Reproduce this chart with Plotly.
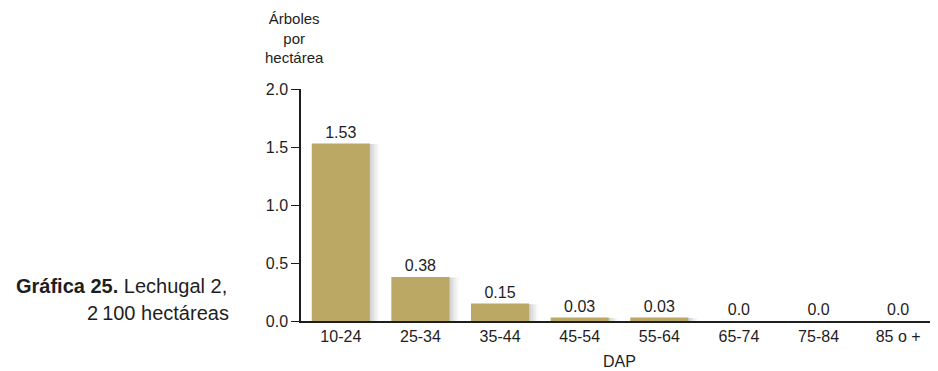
import plotly.graph_objects as go

categories = ["10-24", "25-34", "35-44", "45-54", "55-64", "65-74", "75-84", "85 o +"]
values = [1.53, 0.38, 0.15, 0.03, 0.03, 0.0, 0.0, 0.0]
value_labels = ["1.53", "0.38", "0.15", "0.03", "0.03", "0.0", "0.0", "0.0"]
y_ticks = [0.0, 0.5, 1.0, 1.5, 2.0]
y_tick_labels = ["0.0", "0.5", "1.0", "1.5", "2.0"]

FONT = "Liberation Sans, Arial, Helvetica, sans-serif"
TXT = "#1e1e1e"
BAR = "#BCA865"

# page body has an 8px margin: size/margins compensate so the plot lands where the reference has it
W, H = 930, 363
L, T, B, R = 293, 81, 50, 0
OFF = 8

fig = go.Figure()
# soft drop shadow (layers behind the bars)
for dx, a in [(0.08, 0.04), (0.06, 0.05), (0.04, 0.07), (0.02, 0.08)]:
    fig.add_trace(go.Bar(
        x=categories, y=[v + 0.02 if v > 0 else 0 for v in values],
        base=[-0.025 if v > 0 else 0 for v in values],
        width=0.73 + dx, offset=-0.365 + dx / 2 - 0.005,
        marker=dict(color=f"rgba(60,60,60,{a})", line=dict(width=0)),
        hoverinfo="skip", showlegend=False, cliponaxis=False,
    ))
fig.add_trace(go.Bar(
    x=categories, y=values, text=value_labels, textposition="outside",
    textfont=dict(family=FONT, size=16, color=TXT),
    marker=dict(color=BAR, line=dict(width=0)), width=0.73, cliponaxis=False,
))

fig.update_layout(
    width=W, height=H, margin=dict(l=L, r=R, t=T, b=B, pad=0),
    barmode="overlay",
    paper_bgcolor="white", plot_bgcolor="white", showlegend=False,
    font=dict(family=FONT, size=16, color=TXT),
    xaxis=dict(range=[-0.5, 7.5], showline=True, linecolor=TXT, linewidth=1.5,
               ticks="", showgrid=False, zeroline=False,
               tickfont=dict(family=FONT, size=16, color=TXT),
               title=dict(text="DAP", font=dict(family=FONT, size=16, color=TXT), standoff=12)),
    yaxis=dict(range=[0, 2.0], showline=True, linecolor=TXT, linewidth=1.5,
               ticks="outside", ticklen=8, tickcolor=TXT, tickwidth=1.2,
               tickvals=y_ticks, ticktext=y_tick_labels, showgrid=False, zeroline=False,
               tickfont=dict(family=FONT, size=16, color=TXT)),
)

pw, ph = W - L - R, H - T - B


def px(xp):
    return (xp - OFF - L) / pw


def py(yp):
    return (H - B - (yp - OFF)) / ph


fig.add_annotation(x=px(294), y=py(38), xref="paper", yref="paper",
                   text="Árboles<br>por<br>hectárea", showarrow=False, align="center",
                   xanchor="center", yanchor="middle",
                   font=dict(family=FONT, size=15, color=TXT))
fig.add_annotation(x=px(229), y=py(286), xref="paper", yref="paper",
                   text="<b>Gráfica 25.</b> Lechugal 2,", showarrow=False, xanchor="right",
                   yanchor="middle", font=dict(family=FONT, size=20, color=TXT))
fig.add_annotation(x=px(231), y=py(313), xref="paper", yref="paper",
                   text="2\u2009100 hectáreas", showarrow=False, xanchor="right",
                   yanchor="middle", font=dict(family=FONT, size=20, color=TXT))

fig.write_html("out.html")
